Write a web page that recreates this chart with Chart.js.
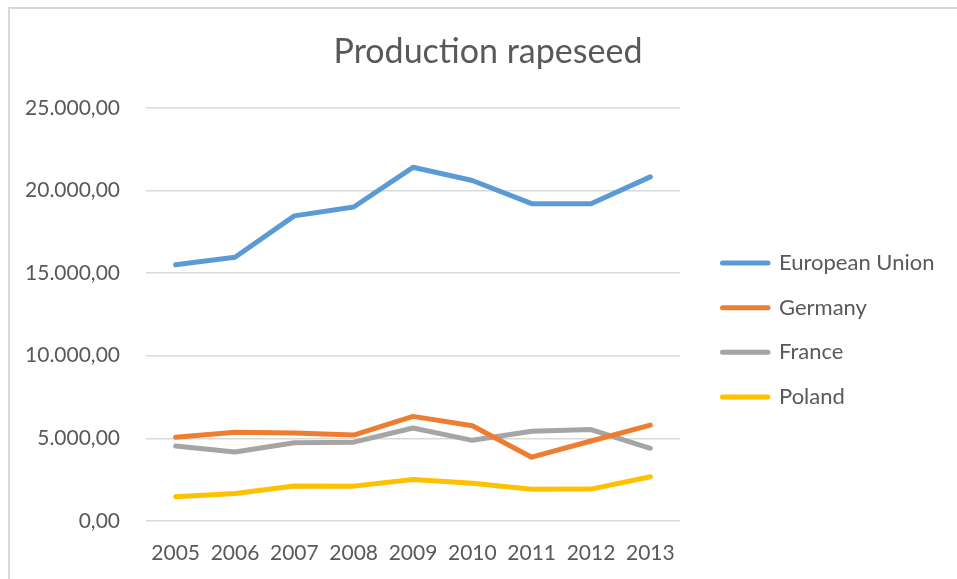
<!DOCTYPE html>
<html>
<head>
<meta charset="utf-8">
<script src="https://cdn.jsdelivr.net/npm/chart.js@4/dist/chart.umd.min.js"></script>
<style>
  html, body { margin: 0; padding: 0; background: #ffffff; overflow: hidden; }
  #wrap { position: relative; width: 957px; height: 579px; }
  #frame { position: absolute; left: 8px; top: 7px; width: 1000px; height: 620px;
           border-top: 2px solid #d9d9d9; border-left: 2px solid #d9d9d9; box-sizing: border-box; }
  #c { position: absolute; left: 0; top: 0; }
</style>
</head>
<body>
<div id="wrap">
  <div id="frame"></div>
  <canvas id="c" width="957" height="579"></canvas>
</div>
<script>
const categories = ['2005', '2006', '2007', '2008', '2009', '2010', '2011', '2012', '2013'];
const seriesNames = ['European Union', 'Germany', 'France', 'Poland'];
const europeanUnion = [15500, 15960, 18460, 19000, 21400, 20600, 19200, 19190, 20820];
const germany = [5070, 5370, 5330, 5200, 6330, 5760, 3860, 4840, 5800];
const france = [4540, 4170, 4730, 4770, 5630, 4880, 5430, 5530, 4400];
const poland = [1470, 1660, 2120, 2110, 2510, 2290, 1920, 1930, 2680];
const yTicks = { min: 0, max: 25000, step: 5000 };
const colors = ['#5B9BD5', '#ED7D31', '#A5A5A5', '#FFC000'];
const textColor = '#595959';
const FONT = 'Lato';

function fmt(v) {
  const intPart = Math.round(v).toString().replace(/\B(?=(\d{3})+(?!\d))/g, '.');
  return intPart + ',00';
}

// layout targets
const PAD_L = 20, PAD_R = 1, PLOT_LEFT = 146, PLOT_RIGHT = 680, PLOT_BOTTOM = 521;
const TICK_FONT = 21;
const LEG_FONT = 22, LEG_BOX = 45.5, LEG_PAD = 22.7, LEG_ITEM_X = 722.5;

const mctx = document.createElement('canvas').getContext('2d');
mctx.font = LEG_FONT + 'px ' + FONT;
const maxText = Math.max(...seriesNames.map(n => mctx.measureText(n).width));
const legendWidth = LEG_PAD + LEG_BOX + LEG_FONT / 2 + maxText + 10;
const gapWidth = Math.max(0, 957 - PAD_R - legendWidth - PLOT_RIGHT);

const values = [europeanUnion, germany, france, poland];
const datasets = seriesNames.map((name, i) => ({
  label: name,
  data: values[i],
  borderColor: colors[i],
  backgroundColor: colors[i],
  borderWidth: 5,
  borderCapStyle: 'round',
  borderJoinStyle: 'round',
  pointRadius: 0,
  pointHoverRadius: 0,
  tension: 0,
  fill: false
}));

const placeLegend = {
  id: 'placeLegend',
  afterLayout(chart) {
    const lg = chart.legend;
    if (!lg) return;
    const w = lg.width;
    lg.left = LEG_ITEM_X - LEG_PAD;
    lg.right = lg.left + w;
  }
};

new Chart(document.getElementById('c'), {
  type: 'line',
  data: { labels: categories, datasets: datasets },
  plugins: [placeLegend],
  options: {
    responsive: false,
    animation: false,
    events: [],
    layout: { padding: { left: PAD_L, right: PAD_R, top: 0, bottom: 0 } },
    plugins: {
      title: {
        display: true,
        text: 'Production rapeseed',
        color: textColor,
        font: { family: FONT, size: 34, weight: 'normal' },
        padding: { top: 32, bottom: 35 }
      },
      legend: {
        display: true,
        position: 'right',
        align: 'center',
        maxWidth: 400,
        title: { display: true, text: '', font: { size: 10, lineHeight: 1.2 }, padding: { top: 34.5, bottom: 34.5 } },
        labels: {
          color: textColor,
          font: { family: FONT, size: LEG_FONT },
          boxWidth: LEG_BOX,
          boxHeight: 0,
          padding: LEG_PAD
        }
      },
      tooltip: { enabled: false }
    },
    scales: {
      x: {
        type: 'category',
        offset: true,
        grid: { display: false, drawTicks: false },
        border: { display: false },
        ticks: { color: textColor, font: { family: FONT, size: TICK_FONT }, padding: 20, maxRotation: 0, autoSkip: false },
        afterFit: (s) => { s.height = 579 - PLOT_BOTTOM; }
      },
      y: {
        type: 'linear',
        min: yTicks.min,
        max: yTicks.max,
        grid: { color: '#d9d9d9', lineWidth: 1.5, drawTicks: false },
        border: { display: false },
        ticks: { stepSize: yTicks.step, color: textColor, font: { family: FONT, size: TICK_FONT }, padding: 26, callback: (v) => fmt(v) },
        afterFit: (s) => { s.width = PLOT_LEFT - PAD_L; }
      },
      gap: {
        type: 'linear',
        position: 'right',
        display: true,
        grid: { display: false, drawTicks: false },
        border: { display: false },
        ticks: { display: false },
        afterFit: (s) => { s.width = gapWidth; }
      }
    }
  }
});
</script>
</body>
</html>
